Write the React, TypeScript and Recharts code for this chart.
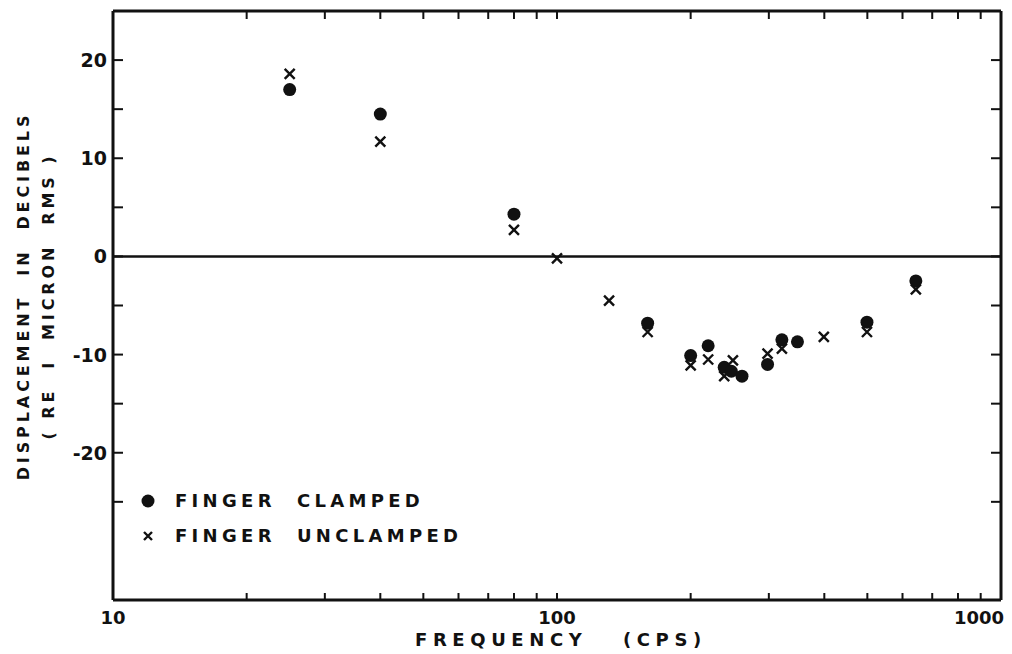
import { ScatterChart, Scatter, XAxis, YAxis, ReferenceLine } from 'recharts'

// finger clamped (dots)
const clampedFreq = [25, 40, 80, 160, 200, 219, 238, 247, 261, 298, 321, 348, 499, 643]
const clampedDb = [17.0, 14.5, 4.3, -6.8, -10.1, -9.1, -11.3, -11.7, -12.2, -11.0, -8.5, -8.7, -6.7, -2.5]

// finger unclamped (x)
const unclampedFreq = [25, 40, 80, 100, 131, 160, 200, 219, 238, 249, 298, 321, 399, 499, 643]
const unclampedDb = [18.6, 11.7, 2.7, -0.2, -4.5, -7.7, -11.1, -10.5, -12.2, -10.6, -9.9, -9.4, -8.2, -7.7, -3.35]

const xTicks = [10, 20, 30, 40, 50, 60, 70, 80, 90, 100, 200, 300, 400, 500, 600, 700, 800, 900, 1000]
const xLabels = [10, 100, 1000]
const yTicks = [-25, -20, -15, -10, -5, 0, 5, 10, 15, 20]
const yLabels = [-20, -10, 0, 10, 20]

const clamped = clampedFreq.map((f, i) => ({ f, db: clampedDb[i] }))
const unclamped = unclampedFreq.map((f, i) => ({ f, db: unclampedDb[i] }))

const FONT = '"DejaVu Sans", sans-serif'
const INK = '#111'

function BottomTick({ x, y, payload }: any) {
  const v = payload.value
  const major = xLabels.includes(v)
  return (
    <g>
      <line x1={x} x2={x} y1={y} y2={y - 7} stroke={INK} strokeWidth={2} />
      {major && (
        <text x={v === 1000 ? x - 22 : x} y={y + 24} textAnchor="middle" fontFamily={FONT} fontWeight="bold" fontSize={18} fill={INK}>
          {v}
        </text>
      )}
    </g>
  )
}

function TopTick({ x, y }: any) {
  return <line x1={x} x2={x} y1={y} y2={y + 8} stroke={INK} strokeWidth={2} />
}

function LeftTick({ x, y, payload }: any) {
  const v = payload.value
  return (
    <g>
      <line x1={x} x2={x + 10} y1={y} y2={y} stroke={INK} strokeWidth={2} />
      {yLabels.includes(v) && (
        <text x={x - 6} y={y + 7} textAnchor="end" fontFamily={FONT} fontWeight="bold" fontSize={19} fill={INK}>
          {v}
        </text>
      )}
    </g>
  )
}

function RightTick({ x, y }: any) {
  return <line x1={x} x2={x - 10} y1={y} y2={y} stroke={INK} strokeWidth={2} />
}

function Dot({ cx, cy }: any) {
  return <circle cx={cx} cy={cy} r={6.5} fill={INK} />
}

function Cross({ cx, cy }: any) {
  const s = 5
  return (
    <path
      d={`M${cx - s},${cy - s}L${cx + s},${cy + s}M${cx + s},${cy - s}L${cx - s},${cy + s}`}
      stroke={INK}
      strokeWidth={2.4}
    />
  )
}

function LegendBox() {
  const row = { display: 'flex', alignItems: 'center', height: 35 }
  const txt = { fontFamily: FONT, fontSize: 18, fontWeight: 'bold' as const, letterSpacing: 4.3, color: INK, whiteSpace: 'pre' as const }
  return (
    <div style={{ position: 'absolute', left: 134, top: 483 }}>
      <div style={row}>
        <svg width={41} height={20}><circle cx={14} cy={10} r={6.5} fill={INK} /></svg>
        <span style={txt}>FINGER  CLAMPED</span>
      </div>
      <div style={row}>
        <svg width={41} height={20}>
          <path d="M10,6L18,14M18,6L10,14" stroke={INK} strokeWidth={2.4} />
        </svg>
        <span style={txt}>FINGER  UNCLAMPED</span>
      </div>
    </div>
  )
}

const axisCommon = {
  type: 'number' as const,
  allowDataOverflow: true,
  tickSize: 0,
  tickMargin: 0,
  tickLine: false,
  interval: 0 as const,
  axisLine: { stroke: INK, strokeWidth: 3 },
}

export default function App() {
  const title = { position: 'absolute' as const, fontFamily: FONT, fontWeight: 'bold' as const, color: INK, whiteSpace: 'pre' as const }
  return (
    <div style={{ position: 'absolute', left: 0, top: 0, width: 1012, height: 654, background: '#fff' }}>
      <ScatterChart width={1012} height={654} margin={{ top: 10, right: 10, bottom: 53, left: 112 }}>
        <XAxis xAxisId="b" dataKey="f" scale="log" domain={[10, 1000]} ticks={xTicks} height={1} tick={<BottomTick />} {...axisCommon} />
        <XAxis xAxisId="t" orientation="top" dataKey="f" scale="log" domain={[10, 1000]} ticks={xTicks} height={1} tick={<TopTick />} {...axisCommon} />
        <YAxis yAxisId="l" dataKey="db" domain={[-35, 25]} ticks={yTicks} width={1} tick={<LeftTick />} {...axisCommon} />
        <YAxis yAxisId="r" orientation="right" dataKey="db" domain={[-35, 25]} ticks={yTicks} width={1} tick={<RightTick />} {...axisCommon} />
        <ReferenceLine xAxisId="b" yAxisId="l" y={0} stroke={INK} strokeWidth={2.5} />
        <Scatter name="FINGER CLAMPED" data={clamped} xAxisId="b" yAxisId="l" shape={<Dot />} isAnimationActive={false} />
        <Scatter name="FINGER UNCLAMPED" data={unclamped} xAxisId="b" yAxisId="l" shape={<Cross />} isAnimationActive={false} />
      </ScatterChart>
      <LegendBox />
      <div style={{ ...title, left: 415, top: 630, fontSize: 18, lineHeight: '20px', letterSpacing: 5.6 }}>FREQUENCY   (CPS)</div>
      <div
        style={{
          ...title,
          left: 36,
          top: 296,
          fontSize: 16,
          letterSpacing: 3.9,
          transform: 'translate(-50%, -50%) rotate(-90deg)',
          textAlign: 'center',
          lineHeight: '25px',
        }}
      >
        {'DISPLACEMENT  IN  DECIBELS\n( RE  I  MICRON  RMS )'}
      </div>
    </div>
  )
}
